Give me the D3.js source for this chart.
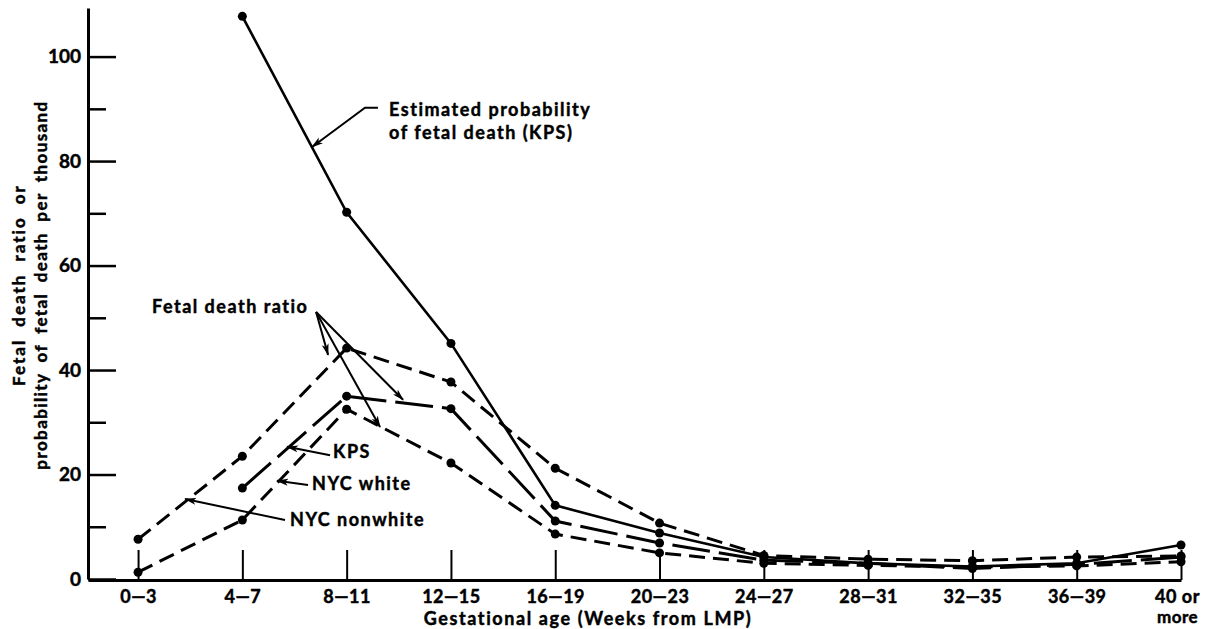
<!DOCTYPE html>
<html>
<head>
<meta charset="utf-8">
<script src="https://cdn.jsdelivr.net/npm/d3@7"></script>
<style>
  body { margin: 0; background: #fff; }
  text { font-family: Lato, "DejaVu Sans", sans-serif; font-weight: bold; fill: #000; stroke: #000; stroke-width: 0.45px; }
</style>
</head>
<body>
<script>
// gestational age groups (weeks from LMP)
var categories = ["0\u20143", "4\u20147", "8\u201411", "12\u201415", "16\u201419", "20\u201423",
                  "24\u201427", "28\u201431", "32\u201435", "36\u201439", "40 or more"];

// per thousand
var probKPS     = [null, 107.7, 70.2, 45.1, 14.1, 8.8, 4.2, 3.0, 2.4, 3.0, 6.5];
var ratioKPS    = [null, 17.4, 35.0, 32.6, 11.1, 6.9, 3.6, 3.0, 2.0, 2.8, 4.2];
var nycWhite    = [1.3, 11.3, 32.5, 22.2, 8.6, 5.0, 3.0, 2.6, 2.3, 2.5, 3.3];
var nycNonwhite = [7.6, 23.5, 44.2, 37.7, 21.2, 10.7, 4.5, 3.8, 3.5, 4.2, 4.4];

var yMajor = [0, 20, 40, 60, 80, 100];
var yMinor = [10, 30, 50, 70, 90];

var w = 1210, h = 629;

var svg = d3.select("body").append("svg")
    .attr("width", w)
    .attr("height", h);

var x = d3.scaleLinear().domain([-0.48, 10]).range([88, 1181]);
var y = d3.scaleLinear().domain([0, 109.3]).range([579, 8]);

svg.append("defs").append("marker")
    .attr("id", "arr")
    .attr("markerUnits", "userSpaceOnUse")
    .attr("viewBox", "0 0 12 8")
    .attr("refX", 11).attr("refY", 4)
    .attr("markerWidth", 12).attr("markerHeight", 8)
    .attr("orient", "auto")
    .append("path")
    .attr("d", "M0,0.5 L12,4 L0,7.5 L3,4 z")
    .attr("fill", "#000");

// y axis: minor then major ticks pointing inward
svg.append("g")
    .attr("transform", "translate(88,0)")
    .call(d3.axisLeft(y).tickValues(yMinor).tickSizeInner(-18).tickSizeOuter(0).tickFormat(""))
    .call(function(g) { g.select(".domain").remove(); })
    .selectAll("line").attr("stroke-width", 2.5);

var yAx = svg.append("g")
    .attr("transform", "translate(88,0)")
    .call(d3.axisLeft(y).tickValues(yMajor).tickSizeInner(-28).tickSizeOuter(0).tickPadding(7));
yAx.select(".domain").attr("stroke-width", 3);
yAx.selectAll("line").attr("stroke-width", 2.5);
yAx.selectAll("text").attr("font-size", 19).attr("font-family", "Lato, sans-serif");

// x axis
var xAx = svg.append("g")
    .attr("transform", "translate(0,580)")
    .call(d3.axisBottom(x).tickValues(d3.range(categories.length))
        .tickSizeInner(-30).tickSizeOuter(0).tickPadding(10)
        .tickFormat(function(i) { return categories[i]; }));
xAx.select(".domain").attr("stroke-width", 3);
xAx.selectAll("line").attr("stroke-width", 2);
xAx.selectAll("text").attr("font-size", 18).attr("font-family", "Lato, sans-serif")
    .attr("letter-spacing", 0.5)
    .each(function(i) {
        if (categories[i] == "40 or more") {
            var t = d3.select(this).text("40 or").attr("x", -4);
            // second line as its own text so the two lines do not share a box
            d3.select(this.parentNode).append("text")
                .attr("fill", "#000")
                .attr("font-size", 17).attr("font-family", "Lato, sans-serif")
                .attr("letter-spacing", 0.5)
                .attr("x", -4).attr("y", 10).attr("dy", "1.95em")
                .text("more");
        }
    });

svg.append("text")
    .attr("x", 588).attr("y", 625)
    .attr("text-anchor", "middle")
    .attr("font-size", 18)
    .attr("letter-spacing", 1.6)
    .text("Gestational age (Weeks from LMP)");

var ytitle = [["Fetal death ratio or", 25, 2, 6], ["probability of fetal death per thousand", 47, 1.4, 5]];
ytitle.forEach(function(d) {
    svg.append("text")
        .attr("transform", "translate(" + d[1] + ",285) rotate(-90)")
        .attr("text-anchor", "middle")
        .attr("font-size", 17)
        .attr("letter-spacing", d[2])
        .attr("word-spacing", d[3])
        .text(d[0]);
});

// series
var series = [
    {vals: probKPS, dash: null, sw: 2.6},
    {vals: nycNonwhite, dash: "16,8", sw: 3},
    {vals: ratioKPS, dash: "38,9", sw: 3},
    {vals: nycWhite, dash: "16,8", sw: 3}
];

var line = d3.line()
    .defined(function(d) { return d != null; })
    .x(function(d, i) { return x(i); })
    .y(function(d) { return y(d); });

series.forEach(function(s) {
    svg.append("path")
        .attr("d", line(s.vals))
        .attr("fill", "none")
        .attr("stroke", "#000")
        .attr("stroke-width", s.sw)
        .attr("stroke-dasharray", s.dash);

    svg.selectAll(null)
        .data(s.vals.map(function(v, i) { return {i: i, v: v}; }).filter(function(d) { return d.v != null; }))
        .enter().append("circle")
        .attr("cx", function(d) { return x(d.i); })
        .attr("cy", function(d) { return y(d.v); })
        .attr("r", 4.5)
        .attr("fill", "#000");
});

// annotations, placed in data units [group index, value]
function pt(p) { return [x(p[0]), y(p[1])]; }
var arrowLine = d3.line();

function arrow(points) {
    svg.append("path")
        .attr("d", arrowLine(points.map(pt)))
        .attr("fill", "none")
        .attr("stroke", "#000")
        .attr("stroke-width", 2)
        .attr("marker-end", "url(#arr)");
}

function label(at, lines) {
    var t = svg.append("text")
        .attr("x", x(at[0])).attr("y", y(at[1]))
        .attr("font-size", 18)
        .attr("letter-spacing", 1.5);
    lines.forEach(function(l, k) {
        t.append("tspan").attr("x", x(at[0])).attr("dy", k ? 23 : 0).text(l);
    });
}

label([2.407, 88.6], ["Estimated probability", "of fetal death (KPS)"]);
arrow([[2.30, 90.2], [2.176, 90.2], [1.668, 82.7]]);

label([0.134, 50.9], ["Fetal death ratio"]);
arrow([[1.707, 51.1], [1.822, 42.9]]);
arrow([[1.707, 51.1], [2.541, 34.3]]);
arrow([[1.707, 51.1], [2.320, 29.1]]);

label([1.870, 23.2], ["KPS"]);
arrow([[1.841, 23.7], [1.429, 25.3]]);

label([1.668, 17.0], ["NYC white"]);
arrow([[1.630, 18.0], [1.333, 18.8]]);

label([1.457, 10.1], ["NYC nonwhite"]);
arrow([[1.409, 11.3], [0.451, 15.3]]);
</script>
</body>
</html>
